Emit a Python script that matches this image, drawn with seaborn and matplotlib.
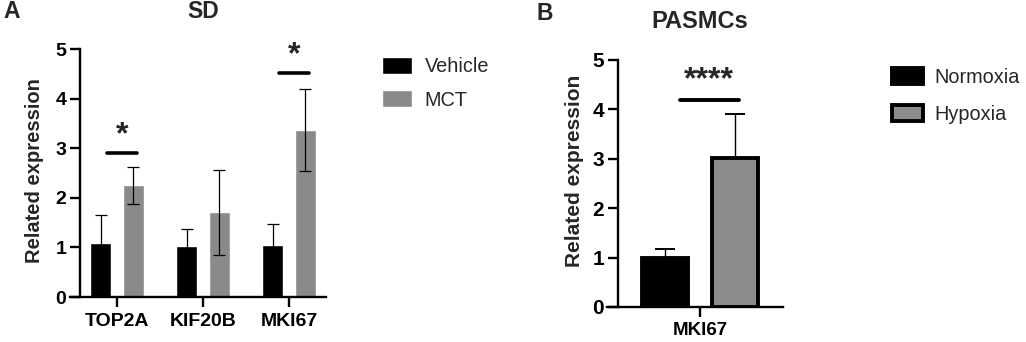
import numpy as np
import pandas as pd
import matplotlib
matplotlib.use("Agg")
import matplotlib.pyplot as plt
import seaborn as sns

# panel A (SD rats)
genes = ["TOP2A", "KIF20B", "MKI67"]
vehicle_mean = [1.09, 1.02, 1.05]
vehicle_sd = [0.56, 0.36, 0.42]
mct_mean = [2.25, 1.71, 3.37]
mct_sd = [0.38, 0.86, 0.83]
sig_a = {"TOP2A": (2.9, "*"), "MKI67": (4.52, "*")}

# panel B (PASMCs)
genes_b = ["MKI67"]
normoxia_mean = [1.0]
normoxia_sd = [0.17]
hypoxia_mean = [3.02]
hypoxia_sd = [0.88]
sig_b = {"MKI67": (4.2, "****")}

PAL_A = {"Vehicle": "#000000", "MCT": "#8a8a8a"}
PAL_B = {"Normoxia": "#000000", "Hypoxia": "#8c8c8c"}

sns.set_style("ticks")
plt.rcParams["font.family"] = ["Liberation Sans", "DejaVu Sans"]
plt.rcParams["font.weight"] = "bold"

W, H = 1026, 342
fig = plt.figure(figsize=(W / 100, H / 100), dpi=100)


def px_axes(left, right, top, bottom):
    return fig.add_axes([left / W, 1 - bottom / H, (right - left) / W, (bottom - top) / H])


def style_axes(ax, ytick_size, xtick_size, xpad):
    for s in ["top", "right"]:
        ax.spines[s].set_visible(False)
    for s in ["left", "bottom"]:
        ax.spines[s].set_linewidth(1.7)
        ax.spines[s].set_color("black")
    ax.set_ylim(0, 5)
    ax.set_yticks(range(6))
    ax.tick_params(axis="y", length=7, width=1.7, pad=3, labelsize=ytick_size, colors="black")
    ax.tick_params(axis="x", length=7, width=1.7, pad=xpad, labelsize=xtick_size, colors="black")
    for lab in ax.get_xticklabels() + ax.get_yticklabels():
        lab.set_fontweight("bold")


# ---------------- panel A ----------------
df_a = pd.DataFrame({
    "gene": genes * 2,
    "group": ["Vehicle"] * 3 + ["MCT"] * 3,
    "value": vehicle_mean + mct_mean,
})
sd_a = {"Vehicle": vehicle_sd, "MCT": mct_sd}

ax = px_axes(70, 326, 49, 297)
sns.barplot(data=df_a, x="gene", y="value", hue="group", palette=PAL_A,
            errorbar=None, width=0.76, gap=0.36, ax=ax, zorder=2)
for cont, grp in zip(ax.containers, ["Vehicle", "MCT"]):
    xs = [b.get_x() + b.get_width() / 2 for b in cont]
    ax.errorbar(xs, df_a[df_a.group == grp].value, yerr=sd_a[grp], fmt="none",
                ecolor="black", elinewidth=0.9, capsize=4.5, capthick=0.9, zorder=3)
for i, g in enumerate(genes):
    if g in sig_a:
        yv, txt = sig_a[g]
        ax.plot([i - 0.12, i + 0.23], [yv, yv], color="black", lw=2.6,
                solid_capstyle="round", clip_on=False)
        ax.text(i + 0.055, yv + 0.06, txt, ha="center", va="bottom",
                fontsize=23, fontweight="bold", clip_on=False)
ax.set_xlim(-0.547, 2.43)
ax.spines["left"].set_position(("data", -0.43))
ax.spines["left"].set_bounds(0, 5)
ax.set_xlabel("")
ax.set_ylabel("Related expression", fontsize=14.5, fontweight="bold")
ax.yaxis.set_label_coords(44 / W, 0.5, transform=fig.transFigure)
style_axes(ax, 14, 14, 4.5)
handles, labels = ax.get_legend_handles_labels()
ax.get_legend().remove()
fig.legend(handles, labels, loc="upper left", bbox_to_anchor=(382 / W, 1 - 57 / H),
           frameon=False, borderpad=0, borderaxespad=0,
           prop={"weight": "normal", "size": 14.3},
           handlelength=1.5, handleheight=0.95, handletextpad=0.64, labelspacing=0.7)
fig.text(203 / W, 1 - 12 / H, "SD", ha="center", va="center", fontsize=16.5, fontweight="bold")
fig.text(3 / W, 1 - 12 / H, "A", ha="left", va="center", fontsize=16.5, fontweight="bold")

# ---------------- panel B ----------------
df_b = pd.DataFrame({
    "gene": genes_b * 2,
    "group": ["Normoxia", "Hypoxia"],
    "value": normoxia_mean + hypoxia_mean,
})
sd_b = {"Normoxia": normoxia_sd, "Hypoxia": hypoxia_sd}

bx = px_axes(607, 783, 60, 307)
sns.barplot(data=df_b, x="gene", y="value", hue="group", palette=PAL_B,
            errorbar=None, width=0.8, gap=0.34, edgecolor="black", linewidth=2.8,
            ax=bx, zorder=2)
for cont, grp in zip(bx.containers, ["Normoxia", "Hypoxia"]):
    xs = [b.get_x() + b.get_width() / 2 for b in cont]
    yv = df_b[df_b.group == grp].value.to_numpy()
    bx.errorbar(xs, yv, yerr=[np.zeros(len(yv)), sd_b[grp]], fmt="none",
                ecolor="black", elinewidth=1.0, capsize=7.5, capthick=1.4, zorder=1)
for i, g in enumerate(genes_b):
    yv, txt = sig_b[g]
    bx.plot([i - 0.115, i + 0.22], [yv, yv], color="black", lw=2.8,
            solid_capstyle="round", clip_on=False)
    bx.text(i + 0.05, yv + 0.08, txt, ha="center", va="bottom",
            fontsize=23, fontweight="bold", clip_on=False)
bx.set_xlim(-0.531, 0.474)
bx.spines["left"].set_position(("data", -0.469))
bx.spines["left"].set_bounds(0, 5)
bx.set_xlabel("")
bx.set_ylabel("Related expression", fontsize=15, fontweight="bold")
bx.yaxis.set_label_coords(584 / W, 0.5, transform=fig.transFigure)
style_axes(bx, 15, 13.5, 4)
handles, labels = bx.get_legend_handles_labels()
bx.get_legend().remove()
fig.legend(handles, labels, loc="upper left", bbox_to_anchor=(892 / W, 1 - 68 / H),
           frameon=False, borderpad=0, borderaxespad=0,
           prop={"weight": "normal", "size": 14.3},
           handlelength=1.55, handleheight=0.85, handletextpad=0.6, labelspacing=0.9)
fig.text(700 / W, 1 - 22 / H, "PASMCs", ha="center", va="center", fontsize=17, fontweight="bold")
fig.text(537 / W, 1 - 14 / H, "B", ha="left", va="center", fontsize=16.5, fontweight="bold")

fig.savefig("out.png", dpi=100)
